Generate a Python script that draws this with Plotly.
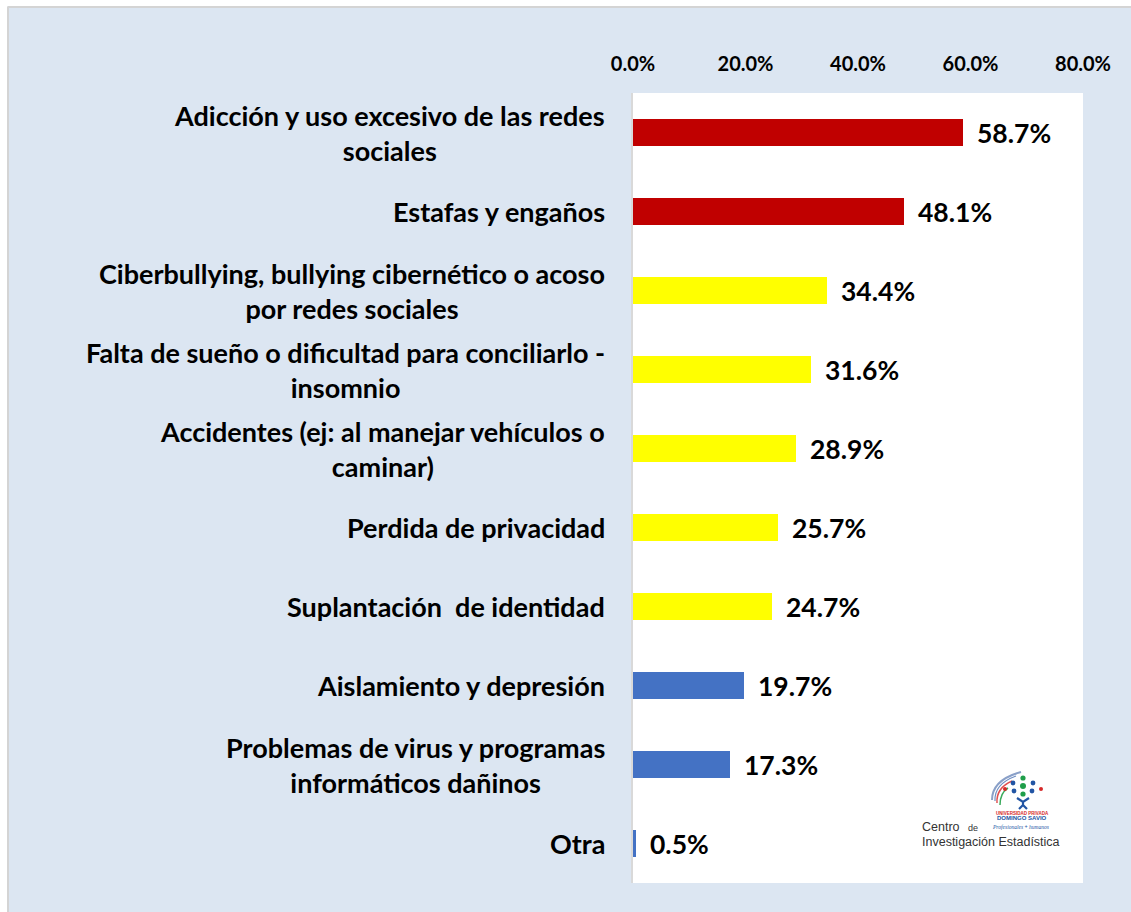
import plotly.graph_objects as go

categories = [
    "Adicción y uso excesivo de las redes<br>sociales",
    "Estafas y engaños",
    "Ciberbullying, bullying cibernético o acoso<br>por redes sociales",
    "Falta de sueño o dificultad para conciliarlo -<br>insomnio",
    "Accidentes (ej: al manejar vehículos o<br>caminar)",
    "Perdida de privacidad",
    "Suplantación  de identidad",
    "Aislamiento y depresión",
    "Problemas de virus y programas<br>informáticos dañinos",
    "Otra",
]
values = [58.7, 48.1, 34.4, 31.6, 28.9, 25.7, 24.7, 19.7, 17.3, 0.5]
bar_colors = ["#C00000", "#C00000", "#FFFF00", "#FFFF00", "#FFFF00",
              "#FFFF00", "#FFFF00", "#4472C4", "#4472C4", "#4472C4"]
tick_vals = [0, 20, 40, 60, 80]
tick_text = ["<b>0.0%</b>", "<b>20.0%</b>", "<b>40.0%</b>", "<b>60.0%</b>", "<b>80.0%</b>"]

FONT = "Lato"
ids = list(range(len(categories)))

fig = go.Figure()
fig.add_trace(go.Bar(
    x=values, y=ids, orientation="h",
    marker=dict(color=bar_colors, line=dict(width=0)),
    width=0.35, hoverinfo="skip",
))


def px_x(p):
    return (p - 633) / 450


def px_y(p):
    return (883 - p) / 790


annotations = []
for i, (c, v) in enumerate(zip(categories, values)):
    annotations.append(dict(
        x=0, xref="paper", y=i, yref="y", text=f"<b>{c}</b>", showarrow=False,
        xanchor="right", yanchor="middle", align="center", xshift=-26,
        font=dict(family=FONT, size=27, color="#000000"),
    ))
    annotations.append(dict(
        x=v, xref="x", y=i, yref="y", text=f"<b>{v:.1f}%</b>", showarrow=False,
        xanchor="left", yanchor="middle", xshift=12,
        font=dict(family=FONT, size=26.5, color="#000000"),
    ))

# logo texts
annotations += [
    dict(x=px_x(920), xref="paper", y=px_y(827), yref="paper",
         text="Centro <span style='font-size:9px'>  de</span>", showarrow=False,
         xanchor="left", yanchor="middle",
         font=dict(family="Liberation Sans", size=12.5, color="#333333")),
    dict(x=px_x(920), xref="paper", y=px_y(842), yref="paper",
         text="Investigación Estadística", showarrow=False,
         xanchor="left", yanchor="middle",
         font=dict(family="Liberation Sans", size=12.5, color="#333333")),
    dict(x=px_x(1022), xref="paper", y=px_y(813), yref="paper",
         text="<b>UNIVERSIDAD PRIVADA</b>", showarrow=False,
         xanchor="center", yanchor="middle",
         font=dict(family="Liberation Sans", size=4.5, color="#D62828")),
    dict(x=px_x(1022), xref="paper", y=px_y(818), yref="paper",
         text="<b>DOMINGO SAVIO</b>", showarrow=False,
         xanchor="center", yanchor="middle",
         font=dict(family="Liberation Sans", size=6, color="#2255A4")),
    dict(x=px_x(1020), xref="paper", y=px_y(827), yref="paper",
         text="<i>Profesionales</i> <b>+</b> <i>humanos</i>", showarrow=False,
         xanchor="center", yanchor="middle",
         font=dict(family="Liberation Serif", size=5.5, color="#2255A4")),
]

shapes = [
    # white outer strips and light border (top/left)
    dict(type="rect", xref="paper", yref="paper", layer="above",
         x0=px_x(-10), x1=px_x(1140), y0=px_y(6.5), y1=px_y(-10),
         fillcolor="#FFFFFF", line=dict(width=0)),
    dict(type="rect", xref="paper", yref="paper", layer="above",
         x0=px_x(-10), x1=px_x(7), y0=px_y(930), y1=px_y(-10),
         fillcolor="#FFFFFF", line=dict(width=0)),
    dict(type="line", xref="paper", yref="paper", layer="above",
         x0=px_x(7.5), x1=px_x(1140), y0=px_y(7), y1=px_y(7),
         line=dict(color="#D4D4D4", width=2)),
    dict(type="line", xref="paper", yref="paper", layer="above",
         x0=px_x(8), x1=px_x(8), y0=px_y(930), y1=px_y(7),
         line=dict(color="#D4D4D4", width=2)),
]

# logo swoosh
swooshes = [
    ("#8AA0C8", 2.0, (992, 800), (992, 780), (1021, 772)),
    ("#6F8FC4", 1.2, (995, 801), (994, 784), (1016, 776)),
    ("#E05050", 1.5, (997, 803), (996, 788), (1012, 781)),
    ("#3BAA5C", 1.5, (1000, 805), (1000, 793), (1008, 788)),
]
for col, w, p0, pc, p1 in swooshes:
    shapes.append(dict(type="path", xref="paper", yref="paper", layer="above",
                       path=f"M {px_x(p0[0])},{px_y(p0[1])} Q {px_x(pc[0])},{px_y(pc[1])} {px_x(p1[0])},{px_y(p1[1])}",
                       line=dict(color=col, width=w)))
# logo dots
dots = [(1023, 778, "#1F9E4A", 2.6), (1013, 783, "#2255A4", 2.4), (1033, 783, "#2255A4", 2.4),
        (1023, 786, "#1F9E4A", 3.0), (1005, 789, "#D62828", 2.0), (1041, 789, "#D62828", 2.0),
        (1014, 791, "#2255A4", 2.4), (1032, 791, "#2255A4", 2.4), (1023, 794, "#1F9E4A", 2.6)]
for (dx, dy, col, r) in dots:
    shapes.append(dict(type="circle", xref="paper", yref="paper", layer="above",
                       x0=px_x(dx - r), x1=px_x(dx + r),
                       y0=px_y(dy + r), y1=px_y(dy - r),
                       fillcolor=col, line=dict(width=0)))
# person
shapes.append(dict(type="path", xref="paper", yref="paper", layer="above",
                   path=(f"M {px_x(1017)},{px_y(798)} L {px_x(1023)},{px_y(802)} L {px_x(1029)},{px_y(798)} "
                         f"M {px_x(1023)},{px_y(801)} L {px_x(1023)},{px_y(805)} "
                         f"M {px_x(1019)},{px_y(809)} L {px_x(1023)},{px_y(805)} L {px_x(1027)},{px_y(809)}"),
                   line=dict(color="#2255A4", width=2.2)))

fig.update_layout(
    width=1131, height=912,
    margin=dict(l=633, r=48, t=93, b=29),
    paper_bgcolor="#DCE6F2",
    plot_bgcolor="#FFFFFF",
    showlegend=False,
    bargap=0,
    xaxis=dict(
        side="top", range=[0, 80], tickvals=tick_vals, ticktext=tick_text,
        showgrid=False, zeroline=False, showline=False,
        ticks="outside", ticklen=13, tickcolor="rgba(0,0,0,0)",
        tickfont=dict(family=FONT, size=20, color="#000000"),
        fixedrange=True,
    ),
    yaxis=dict(
        range=[9.5, -0.5], tickvals=ids, showticklabels=False,
        showgrid=False, zeroline=False, showline=True,
        linecolor="#D9D9D9", linewidth=1.5, ticks="",
        fixedrange=True,
    ),
    annotations=annotations,
    shapes=shapes,
)

fig.write_html("out.html", config={"displayModeBar": False},
               post_script="document.body.style.margin='0';document.body.style.padding='0';")
